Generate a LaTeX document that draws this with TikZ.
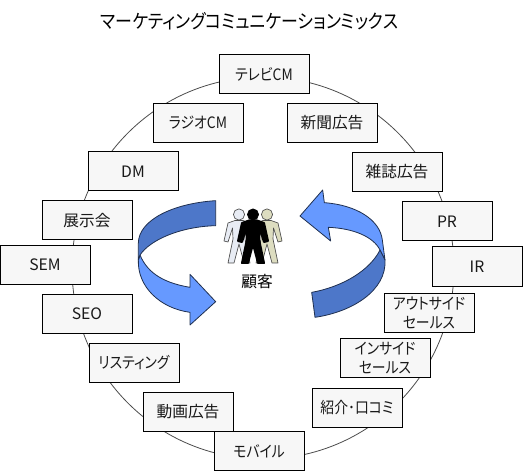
\documentclass[tikz,border=0pt]{standalone}
\usepackage{fontspec}
\setmainfont[RawFeature=+palt]{Noto Sans CJK JP}
\newfontfamily\narrowcjk[RawFeature=+palt,FakeStretch=0.88]{Noto Sans CJK JP}
\definecolor{boxfill}{HTML}{F7F7F7}
\definecolor{lightblue}{HTML}{6699FF}
\definecolor{darkblue}{HTML}{4D77C9}
\definecolor{edgeblue}{HTML}{1F2F4F}
\definecolor{manwhite}{HTML}{E8ECF4}
\definecolor{mantan}{HTML}{DDDDC0}
\tikzset{
  mix/.style={draw=black,line width=0.75pt,fill=boxfill,minimum width=67.5pt,minimum height=29.25pt,inner sep=0pt,align=center,font=\fontsize{11.8pt}{14.25pt}\selectfont,text=black!90},
  kana/.style={mix,font=\narrowcjk\fontsize{11.8pt}{14.25pt}\selectfont},
  ring/.style={draw=black!70,line width=0.6pt},
  band/.style={draw=edgeblue,line width=0.6pt,line join=round}
}
\newcommand{\manbody}[4]{%
  \begin{scope}[shift={(#1,206)}]
  \filldraw[#2,draw=#3,line width=#4,line join=round]
   (-4,14.5)--(4,14.5)--(11,17)--(15,35)--(11,36)--(6.5,22)--(6,33)--(11,57)--(5,57)--(0,38)--(-5,57)--(-11,57)--(-6,33)--(-6.5,22)--(-11,36)--(-15,35)--(-11,17)--cycle;
  \filldraw[#2,draw=#3,line width=0.5pt] (0,8.5) circle (5.6);
  \end{scope}}
\begin{document}
\begin{tikzpicture}[x=0.75pt,y=-0.75pt]
\useasboundingbox (0,0) rectangle (523,473);
\draw[ring] (263,268) circle (191);
% arrows in zoomed reference coordinates
\begin{scope}[shift={(130,180)},x=0.25pt,y=-0.25pt]
\fill[lightblue,band] (30,225) .. controls (55,285) and (110,310) .. (180,322) -- (180,283) -- (257,365) -- (180,435) -- (180,397) .. controls (90,385) and (22,320) .. (25,240) -- cycle;
\fill[darkblue,band] (257,62) .. controls (130,70) and (25,120) .. (25,190) -- (25,240) -- (30,225) .. controls (60,180) and (150,140) .. (257,137) -- cycle;
\fill[lightblue,band] (750,210) .. controls (730,170) and (670,145) .. (595,142) -- (602,183) -- (510,108) -- (578,30) -- (583,68) .. controls (680,75) and (750,120) .. (757,180) -- (765,240) -- cycle;
\fill[darkblue,band] (750,210) -- (765,240) .. controls (770,330) and (670,395) .. (555,412) -- (545,337) .. controls (640,320) and (720,270) .. (750,210) -- cycle;
\end{scope}
\manbody{239}{manwhite}{black!70}{0.5pt}
\manbody{267}{mantan}{black!70}{0.5pt}
\manbody{253}{black}{black}{1.5pt}
\node[font=\fontsize{11.8pt}{13.5pt}\selectfont] (center) at (257,282) {顧客};
\node[font=\narrowcjk\fontsize{14.4pt}{15pt}\selectfont] (title) at (249.5,21) {マーケティングコミュニケーションミックス};
\node[kana] (tv) at (264,74.5) {テレビCM};
\node[kana] (radio) at (198,123) {ラジオCM};
\node[mix] (news) at (332,123) {新聞広告};
\node[mix] (mag) at (397,172) {雑誌広告};
\node[mix] (dm) at (133,171.5) {DM};
\node[mix] (exh) at (87,220.5) {展示会};
\node[mix] (pr) at (447,221.5) {PR};
\node[mix] (sem) at (45,265) {SEM};
\node[mix] (ir) at (477,266.5) {IR};
\node[mix] (seo) at (87,313.5) {SEO};
\node[kana] (out) at (429,312.5) {アウトサイド\\セールス};
\node[kana] (ins) at (385,358) {インサイド\\セールス};
\node[kana] (ref) at (357,407.5) {紹介･口コミ};
\node[kana] (list) at (134,362.5) {リスティング};
\node[mix] (video) at (188,411.5) {動画広告};
\node[kana] (mob) at (259,451) {モバイル};
\end{tikzpicture}
\end{document}
